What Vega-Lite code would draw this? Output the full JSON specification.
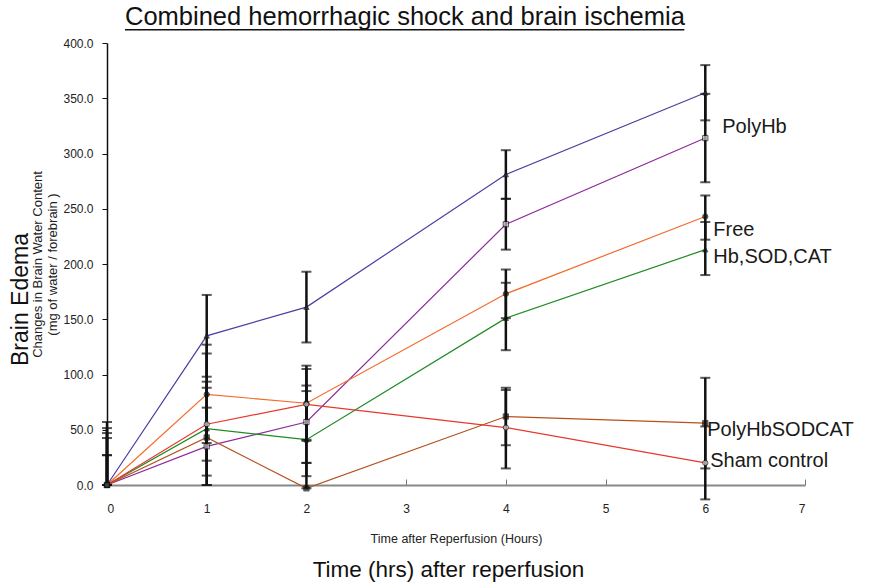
{
  "$schema": "https://vega.github.io/schema/vega-lite/v6.json",
  "autosize": "none",
  "width": 698,
  "height": 442,
  "padding": {"left": 107, "top": 43, "right": 76, "bottom": 99},
  "background": "white",
  "config": {"view": {"stroke": null}, "font": "Liberation Sans"},
  "title": {"text": "Combined hemorrhagic shock and brain ischemia", "anchor": "start", "frame": "group", "dx": 18, "fontSize": 25.5, "fontWeight": "normal", "font": "Liberation Sans", "color": "#111", "offset": -2},
  "datasets": {
    "points": [
      {"series": "A", "time": 0, "value": 0, "lo": 0, "hi": 57},
      {"series": "A", "time": 1, "value": 135, "lo": 98, "hi": 172},
      {"series": "A", "time": 2, "value": 161, "lo": 129, "hi": 193},
      {"series": "A", "time": 4, "value": 281, "lo": 259, "hi": 303},
      {"series": "A", "time": 6, "value": 355, "lo": 330, "hi": 380},
      {"series": "B", "time": 0, "value": 0, "lo": 0, "hi": 47},
      {"series": "B", "time": 1, "value": 35, "lo": 0, "hi": 70},
      {"series": "B", "time": 2, "value": 57, "lo": 20, "hi": 90},
      {"series": "B", "time": 4, "value": 236, "lo": 213, "hi": 259},
      {"series": "B", "time": 6, "value": 314, "lo": 274, "hi": 354},
      {"series": "C", "time": 0, "value": 0, "lo": 0, "hi": 42.5},
      {"series": "C", "time": 1, "value": 82, "lo": 38, "hi": 127},
      {"series": "C", "time": 2, "value": 74, "lo": 40, "hi": 108},
      {"series": "C", "time": 4, "value": 173, "lo": 151, "hi": 195},
      {"series": "C", "time": 6, "value": 243, "lo": 222, "hi": 262},
      {"series": "D", "time": 0, "value": 0, "lo": 0, "hi": 51.5},
      {"series": "D", "time": 1, "value": 51, "lo": 8.5, "hi": 93.5},
      {"series": "D", "time": 2, "value": 41, "lo": 8, "hi": 85},
      {"series": "D", "time": 4, "value": 151, "lo": 122, "hi": 183},
      {"series": "D", "time": 6, "value": 213, "lo": 190, "hi": 238},
      {"series": "E", "time": 0, "value": 0, "lo": 0, "hi": 27},
      {"series": "E", "time": 1, "value": 55, "lo": 22, "hi": 88},
      {"series": "E", "time": 2, "value": 73, "lo": 41, "hi": 105},
      {"series": "E", "time": 4, "value": 52, "lo": 15, "hi": 86},
      {"series": "E", "time": 6, "value": 20, "lo": -13, "hi": 53},
      {"series": "F", "time": 0, "value": 0, "lo": 0, "hi": 27},
      {"series": "F", "time": 1, "value": 43, "lo": 0, "hi": 119},
      {"series": "F", "time": 2, "value": -3, "lo": -3, "hi": 20},
      {"series": "F", "time": 4, "value": 62, "lo": 36, "hi": 88},
      {"series": "F", "time": 6, "value": 56, "lo": 15, "hi": 97}
    ],
    "labels": [
      {"time": 6.17, "value": 324, "text": "PolyHb"},
      {"time": 6.08, "value": 231, "text": "Free"},
      {"time": 6.08, "value": 206, "text": "Hb,SOD,CAT"},
      {"time": 6.02, "value": 50, "text": "PolyHbSODCAT"},
      {"time": 6.05, "value": 22, "text": "Sham control"}
    ],
    "underline": [
      {"x1": 0.18, "x2": 5.79, "y": 412}
    ]
  },
  "resolve": {"axis": {"x": "independent", "y": "independent"}},
  "layer": [
    {
      "data": {"name": "points"},
      "mark": {"type": "line", "strokeWidth": 1.2},
      "encoding": {
        "x": {"field": "time", "type": "quantitative", "scale": {"domain": [0, 7], "nice": false, "zero": false},
          "axis": {"values": [0, 1, 2, 3, 4, 5, 6, 7], "grid": false, "tickSize": -6, "tickColor": "#777", "domainColor": "#888", "domainWidth": 2, "labelFont": "Liberation Sans", "labelFontSize": 12, "labelColor": "#222", "labelPadding": 24, "title": "Time after Reperfusion (Hours)", "titleFont": "Liberation Sans", "titleFontSize": 12.5, "titleFontWeight": "normal", "titleColor": "#222", "titlePadding": 18}},
        "y": {"field": "value", "type": "quantitative", "scale": {"domain": [0, 400], "nice": false, "zero": false},
          "axis": {"values": [0, 50, 100, 150, 200, 250, 300, 350, 400], "format": ".1f", "grid": false, "tickSize": 5, "tickColor": "#111", "domainColor": "#111", "domainWidth": 1.5, "labelFont": "Liberation Sans", "labelFontSize": 12, "labelColor": "#222", "labelPadding": 9, "title": ["Changes in Brain Water Content", "(mg of water / forebrain )"], "titleFont": "Liberation Sans", "titleFontSize": 13, "titleLineHeight": 15, "titleFontWeight": "normal", "titleColor": "#222", "titlePadding": 3}},
        "color": {"field": "series", "type": "nominal", "legend": null,
          "scale": {"domain": ["A", "B", "C", "D", "E", "F"], "range": ["#4a3fa0", "#8e2a9c", "#f36b2b", "#1f8a24", "#e8372c", "#b4521e"]}}
      }
    },
    {
      "data": {"name": "points"},
      "mark": {"type": "errorbar", "color": "#111", "thickness": 2.5, "ticks": {"size": 10, "thickness": 2}},
      "encoding": {
        "x": {"field": "time", "type": "quantitative", "axis": {"orient": "bottom", "labels": false, "ticks": false, "domain": false, "grid": false, "title": "Time (hrs) after reperfusion", "titleFont": "Liberation Sans", "titleFontSize": 22.5, "titleFontWeight": "normal", "titleColor": "#111", "titlePadding": 73, "titleX": 341}},
        "y": {"field": "lo", "type": "quantitative", "title": "Brain Edema", "axis": {"orient": "left", "labels": false, "ticks": false, "domain": false, "grid": false, "titleFont": "Liberation Sans", "titleFontSize": 23, "titleFontWeight": "normal", "titleColor": "#111", "titlePadding": 75, "titleY": 256}},
        "y2": {"field": "hi"}
      }
    },
    {
      "data": {"name": "points"},
      "mark": {"type": "point", "filled": true, "size": 28, "stroke": "#111", "strokeWidth": 1},
      "encoding": {
        "x": {"field": "time", "type": "quantitative", "axis": null},
        "y": {"field": "value", "type": "quantitative", "axis": null},
        "shape": {"field": "series", "type": "nominal", "legend": null,
          "scale": {"domain": ["A", "B", "C", "D", "E", "F"], "range": ["triangle-up", "square", "circle", "triangle-up", "circle", "square"]}},
        "fill": {"field": "series", "type": "nominal", "legend": null,
          "scale": {"domain": ["A", "B", "C", "D", "E", "F"], "range": ["#333333", "#cccccc", "#111111", "#111111", "#dddddd", "#111111"]}}
      }
    },
    {
      "data": {"name": "labels"},
      "mark": {"type": "text", "align": "left", "baseline": "middle", "font": "Liberation Sans", "fontSize": 20, "color": "#1a1a1a"},
      "encoding": {
        "x": {"field": "time", "type": "quantitative", "axis": null},
        "y": {"field": "value", "type": "quantitative", "axis": null},
        "text": {"field": "text"}
      }
    },
    {
      "data": {"name": "underline"},
      "mark": {"type": "rule", "color": "#111", "strokeWidth": 1.5, "clip": false},
      "encoding": {
        "x": {"field": "x1", "type": "quantitative", "axis": null},
        "x2": {"field": "x2"},
        "y": {"field": "y", "type": "quantitative", "axis": null}
      }
    }
  ]
}
